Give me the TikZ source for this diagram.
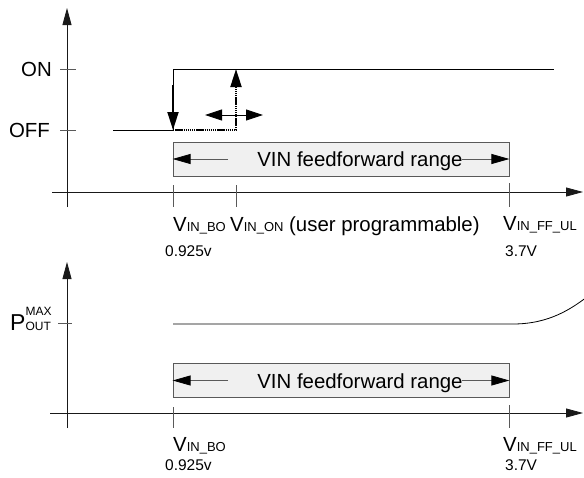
\documentclass[tikz,border=0pt]{standalone}
\usepackage{fontspec}
\setmainfont{Liberation Sans}
\usetikzlibrary{arrows.meta}
\definecolor{boxgray}{rgb}{0.94,0.94,0.94}
\definecolor{linegray}{rgb}{0.35,0.35,0.35}
\newcommand{\vsig}[1]{V\raisebox{-0.5pt}{\fontsize{13}{13}\selectfont #1}}

\begin{document}
\begin{tikzpicture}[x=1pt,y=-1pt]
	\tikzstyle{axisline} = [-{Triangle[length=17pt,width=9pt]},line width=0.8pt,draw=black!90]
	\tikzstyle{edge} = [-,line width=0.8pt]
	\tikzstyle{tickmark} = [-,line width=0.8pt,draw=linegray]
	\tikzstyle{movearr} = [-{Triangle[length=18pt,width=11pt]},line width=1.8pt]
	\tikzstyle{tracearr} = [line width=2pt,dash pattern=on 1.4pt off 0.7pt,-{Triangle[length=18pt,width=11pt]}]
	\tikzstyle{hyst} = [{Triangle[length=17pt,width=11pt]}-{Triangle[length=17pt,width=11pt]},line width=0.9pt]
	\tikzstyle{rarrow} = [-{Triangle[length=18pt,width=10pt,color=black]},line width=0.8pt,draw=linegray]
	\tikzstyle{rangebox} = [draw=linegray,fill=boxgray,line width=0.8pt,minimum width=336pt,minimum height=34pt,inner sep=0pt]
	\tikzstyle{lbl} = [inner sep=0pt,anchor=base west]
	\tikzstyle{bigtxt} = [font=\fontsize{20.4}{24}\selectfont]
	\tikzstyle{smalltxt} = [font=\fontsize{15.5}{18}\selectfont]
	\useasboundingbox (0,0) rectangle (584,477);

	% upper panel: on/off state
	\coordinate (y1b) at (67,207);
	\coordinate (y1t) at (67,8);
	\coordinate (x1l) at (52,192);
	\coordinate (x1r) at (583,192);
	\draw[axisline] (y1b)--(y1t);
	\draw[axisline] (x1l)--(x1r);
	\foreach \yy in {69,130}
		\draw[tickmark] (60,\yy)--(76,\yy);
	\node[bigtxt,inner sep=0pt,anchor=east] (on) at (52,69) {ON};
	\node[bigtxt,inner sep=0pt,anchor=east] (off) at (50,130) {OFF};

	\coordinate (off0) at (113,130);
	\coordinate (bo) at (173,130);
	\coordinate (bohi) at (173,69);
	\coordinate (onend) at (554,69);
	\draw[edge] (off0)--(bo)--(bohi)--(onend);
	\coordinate (dn) at (173,85);
	\draw[movearr] (dn)--(bo);
	\coordinate (onlo) at (236,130);
	\coordinate (onhi) at (236,69);
	\draw[tracearr] (bo)--(onlo)--(onhi);
	\coordinate (shl) at (205,115);
	\coordinate (shr) at (263,115);
	\draw[hyst] (shl)--(shr);

	\node[rangebox] (rng1) at (341,159) {};
	\node[bigtxt,anchor=base,inner sep=0pt] (txt1) at (360,166.5) {VIN feedforward range};
	\coordinate (ra1) at (228,159);
	\coordinate (rb1) at (462,159);
	\draw[rarrow] (ra1)--(rng1.west);
	\draw[rarrow] (rb1)--(rng1.east);

	\draw[tickmark] (173,185)--(173,207);
	\draw[tickmark] (236,185)--(236,207);
	\draw[tickmark] (509,183)--(509,207);
	\node[bigtxt,lbl] (vbo1) at (173,231) {\vsig{IN\_BO}};
	\node[bigtxt,lbl] (von1) at (230,231) {\vsig{IN\_ON} (user programmable)};
	\node[bigtxt,lbl] (vff1) at (503,230) {\vsig{IN\_FF\_UL}};
	\node[smalltxt,lbl] (n0925a) at (165,256) {0.925v};
	\node[smalltxt,lbl] (n37a) at (505,256) {3.7V};

	% lower panel: output power
	\coordinate (y2b) at (67,428);
	\coordinate (y2t) at (67,262);
	\coordinate (x2l) at (50,413);
	\coordinate (x2r) at (583,413);
	\draw[axisline] (y2b)--(y2t);
	\draw[axisline] (x2l)--(x2r);
	\draw[tickmark] (58,323)--(72,323);
	\node[lbl,font=\fontsize{23}{26}\selectfont] (pmax) at (10,330)
		{P\rlap{\raisebox{15pt}{\fontsize{12}{12}\selectfont MAX}}{\fontsize{12}{12}\selectfont OUT}};

	\coordinate (p0) at (173,324);
	\coordinate (p1) at (513,324);
	\coordinate (p2) at (587,297);
	\draw[edge] (p0)--(p1) .. controls (550,324) and (572,308) .. (p2);

	\node[rangebox] (rng2) at (341,380.5) {};
	\node[bigtxt,anchor=base,inner sep=0pt] (txt2) at (360,388) {VIN feedforward range};
	\coordinate (ra2) at (228,380.5);
	\coordinate (rb2) at (462,380.5);
	\draw[rarrow] (ra2)--(rng2.west);
	\draw[rarrow] (rb2)--(rng2.east);

	\draw[tickmark] (173,407)--(173,428);
	\draw[tickmark] (509,405)--(509,428);
	\node[bigtxt,lbl] (vbo2) at (173,451) {\vsig{IN\_BO}};
	\node[bigtxt,lbl] (vff2) at (503,451) {\vsig{IN\_FF\_UL}};
	\node[smalltxt,lbl] (n0925b) at (165,470) {0.925v};
	\node[smalltxt,lbl] (n37b) at (505,470) {3.7V};
\end{tikzpicture}
\end{document}
